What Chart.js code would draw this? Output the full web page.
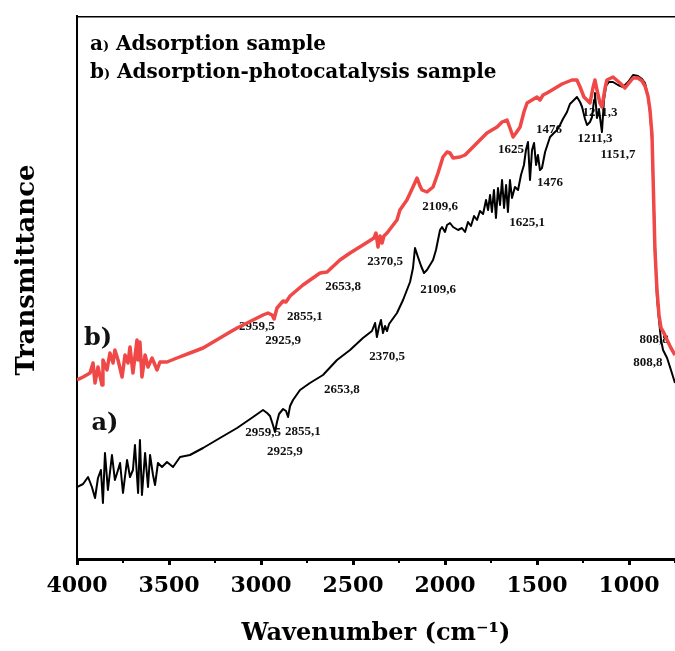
<!DOCTYPE html>
<html>
<head>
<meta charset="utf-8">
<script src="https://cdn.jsdelivr.net/npm/chart.js@4.4.1/dist/chart.umd.min.js"></script>
<style>
  html, body { margin: 0; padding: 0; background: #fff; }
  #wrap { width: 675px; height: 651px; }
</style>
</head>
<body>
<div id="wrap"><canvas id="ftir" width="675" height="651"></canvas></div>
<script>
// wavenumber (cm-1) / transmittance (a.u.)
// a) adsorption sample (black)
const wnA = [4000, 3967, 3940, 3919, 3902, 3886, 3870, 3859, 3848, 3832, 3810, 3794, 3777, 3766, 3750, 3728, 3712, 3696, 3685, 3668,
  3658, 3647, 3630, 3614, 3603, 3587, 3576, 3560, 3538, 3511, 3478, 3440, 3386, 3315, 3223, 3130, 3043, 2989,
  2967, 2951, 2935, 2924, 2913, 2902, 2880, 2864, 2853, 2842, 2826, 2788, 2734, 2663, 2587, 2516, 2446, 2397, 2380, 2370,
  2359, 2348, 2337, 2326, 2315, 2304, 2261, 2228, 2190, 2174, 2163, 2147, 2130, 2114, 2098, 2065, 2049, 2027, 2016, 2000,
  1989, 1973, 1956, 1929, 1908, 1891, 1875, 1859, 1842, 1826, 1810, 1793, 1777, 1766, 1755, 1745, 1734, 1723, 1712, 1701,
  1690, 1679, 1668, 1658, 1647, 1636, 1620, 1603, 1587, 1571, 1560, 1549, 1538, 1527, 1516, 1505, 1495, 1484, 1473, 1456,
  1440, 1429, 1408, 1391, 1375, 1359, 1337, 1321, 1299, 1283, 1266, 1255, 1239, 1228, 1212, 1201, 1190, 1185, 1174, 1163,
  1147, 1136, 1125, 1109, 1087, 1060, 1033, 1005, 978, 951, 929, 913, 897, 886, 875, 859, 848, 837, 826,
  815, 793, 772, 750];
const tA = [7.2, 7.5, 8.2, 7.2, 6.1, 8.1, 8.9, 5.6, 10.6, 6.9, 10.4, 7.9, 8.9, 9.6, 6.6, 9.9, 8.2, 8.9, 11.4, 6.6,
  11.9, 6.4, 10.6, 7.2, 10.4, 8.4, 7.4, 9.6, 9.2, 9.7, 9.2, 10.2, 10.4, 11.1, 12.1, 13.1, 14.2, 14.9,
  14.6, 14.3, 13.4, 12.7, 13.7, 14.5, 15.0, 14.8, 14.2, 15.3, 15.9, 16.9, 17.6, 18.4, 19.9, 20.9, 22.1, 22.8, 23.6, 22.2,
  23.2, 23.9, 22.6, 23.3, 22.8, 23.5, 24.6, 25.9, 27.7, 29.1, 31.1, 30.2, 29.3, 28.6, 28.9, 29.9, 30.9, 32.9, 33.2, 32.7,
  33.4, 33.6, 33.2, 32.9, 33.1, 32.7, 33.7, 33.3, 34.3, 33.9, 34.8, 34.5, 35.9, 34.9, 36.4, 34.7, 36.9, 34.1, 37.1, 35.4,
  37.9, 35.1, 37.4, 34.7, 37.9, 36.1, 37.2, 36.9, 38.4, 39.4, 40.9, 41.7, 37.9, 40.9, 41.6, 39.4, 40.4, 38.9, 39.1, 40.7,
  41.6, 42.2, 42.6, 42.9, 43.4, 44.0, 44.7, 45.5, 45.9, 46.2, 45.7, 45.2, 44.0, 43.4, 43.7, 44.2, 45.9, 46.6, 44.1, 44.9,
  42.7, 45.9, 47.3, 47.7, 47.7, 47.4, 47.2, 47.7, 48.4, 48.3, 48.0, 47.6, 46.3, 44.7, 41.9, 31.5, 26.2, 23.9, 21.9,
  20.9, 20.1, 18.9, 17.6];

// b) adsorption-photocatalysis sample (red)
const wnB = [4000, 3967, 3929, 3913, 3902, 3886, 3864, 3859, 3837, 3821, 3804, 3794, 3777, 3755, 3739, 3723, 3712, 3696, 3674, 3669,
  3658, 3647, 3630, 3614, 3592, 3565, 3549, 3511, 3457, 3386, 3315, 3223, 3168, 3130, 3043, 2989, 2962, 2940, 2929, 2913,
  2880, 2864, 2842, 2772, 2679, 2641, 2571, 2516, 2446, 2386, 2375, 2364, 2353, 2342, 2332, 2315, 2261, 2245, 2207, 2174,
  2152, 2136, 2125, 2098, 2065, 2038, 2011, 1989, 1973, 1956, 1918, 1891, 1864, 1837, 1810, 1772, 1745, 1717, 1690, 1663,
  1647, 1630, 1614, 1592, 1571, 1554, 1527, 1500, 1484, 1467, 1446, 1418, 1391, 1364, 1337, 1310, 1283, 1266, 1245, 1228,
  1212, 1196, 1185, 1174, 1158, 1147, 1130, 1120, 1087, 1049, 1022, 1000, 978, 951, 929, 913, 897, 886, 875,
  859, 848, 837, 826, 810, 793, 772, 750];
const tB = [17.9, 18.2, 18.6, 19.6, 17.6, 19.2, 17.4, 19.9, 18.9, 20.6, 19.6, 20.9, 19.9, 18.2, 20.4, 19.6, 21.2, 18.6, 21.9, 19.9,
  21.7, 18.2, 20.4, 19.2, 20.1, 18.9, 19.7, 19.7, 20.1, 20.6, 21.1, 22.1, 22.7, 23.1, 23.9, 24.4, 24.6, 24.4, 24.0, 25.1,
  25.8, 25.7, 26.3, 27.4, 28.6, 28.7, 29.9, 30.6, 31.4, 32.1, 32.6, 31.2, 32.3, 31.6, 32.3, 32.6, 33.9, 34.9, 35.9, 37.2,
  38.1, 37.3, 36.9, 36.7, 37.2, 38.6, 40.2, 40.7, 40.6, 40.1, 40.2, 40.4, 40.9, 41.4, 41.9, 42.6, 42.9, 43.2, 43.7, 43.9,
  43.1, 42.2, 42.6, 43.2, 44.7, 45.6, 45.9, 46.2, 45.9, 46.4, 46.6, 46.9, 47.2, 47.5, 47.7, 47.9, 47.9, 47.2, 46.2, 45.9,
  45.6, 47.1, 47.9, 46.9, 45.6, 45.2, 47.1, 47.9, 48.2, 47.6, 47.1, 47.6, 48.1, 48.1, 47.8, 47.3, 46.3, 44.9, 42.4,
  30.9, 26.9, 24.4, 23.1, 22.6, 21.9, 21.1, 20.4];

const xTickValues = [1000, 1500, 2000, 2500, 3000, 3500, 4000];
const xMinorTicks = [3750, 3250, 2750, 2250, 1750, 1250, 750];

// peak labels: text, wavenumber, transmittance where the label sits
const peakTextA = ['2959,5', '2855,1', '2925,9', '2653,8', '2370,5', '2109,6', '1625,1', '1476', '1211,3', '1151,7', '808,8'];
const peakXA = [2989, 2772, 2870, 2560, 2315, 2038, 1554, 1429, 1185, 1060, 897];
const peakYA = [12.6, 12.7, 10.7, 16.9, 20.2, 26.9, 33.6, 37.6, 42.0, 40.4, 19.6];
const peakTextB = ['2959,5', '2925,9', '2855,1', '2653,8', '2370,5', '2109,6', '1625', '1476', '1211,3', '808,8'];
const peakXB = [3022, 2880, 2761, 2554, 2326, 2027, 1641, 1435, 1158, 864];
const peakYB = [23.2, 21.8, 24.2, 27.2, 29.7, 35.2, 40.9, 42.9, 44.6, 21.9];

const toPoints = (xs, ys) => xs.map((x, i) => ({ x: x, y: ys[i] }));

const serif = '"DejaVu Serif", serif';

const decorations = {
  id: 'decorations',
  beforeDatasetsDraw(chart) {
    const { ctx, chartArea: a, scales: { x, y } } = chart;
    ctx.save();
    // top frame line
    ctx.strokeStyle = '#000';
    ctx.lineWidth = 1.5;
    ctx.beginPath();
    ctx.moveTo(a.left, a.top + 0.75);
    ctx.lineTo(a.right, a.top + 0.75);
    ctx.stroke();
    // minor ticks
    ctx.lineWidth = 2;
    xMinorTicks.forEach(v => {
      const px = x.getPixelForValue(v);
      ctx.beginPath();
      ctx.moveTo(px, a.bottom);
      ctx.lineTo(px, a.bottom + 4);
      ctx.stroke();
    });
    // peak labels
    ctx.fillStyle = '#111';
    ctx.textAlign = 'center';
    ctx.textBaseline = 'middle';
    ctx.font = 'bold 13px "Liberation Serif", serif';
    peakTextA.forEach((t, i) => ctx.fillText(t, x.getPixelForValue(peakXA[i]), y.getPixelForValue(peakYA[i])));
    peakTextB.forEach((t, i) => ctx.fillText(t, x.getPixelForValue(peakXB[i]), y.getPixelForValue(peakYB[i])));
    // curve tags
    ctx.font = 'bold 24px ' + serif;
    ctx.fillText('b)', x.getPixelForValue(3886), y.getPixelForValue(22.0));
    ctx.fillText('a)', x.getPixelForValue(3848), y.getPixelForValue(13.5));
    ctx.restore();
  },
  afterDraw(chart) {
    const { ctx } = chart;
    ctx.save();
    ctx.fillStyle = '#000';
    ctx.textBaseline = 'alphabetic';
    ctx.textAlign = 'left';
    const line = (tag, text, x0, yb) => {
      let xp = x0;
      ctx.font = 'bold 20px ' + serif;
      ctx.fillText(tag, xp, yb);
      xp += ctx.measureText(tag).width;
      ctx.font = 'bold 13px ' + serif;
      ctx.fillText(')', xp, yb);
      xp += ctx.measureText(')').width;
      ctx.font = 'bold 20px ' + serif;
      ctx.fillText(text, xp, yb);
    };
    line('a', ' Adsorption sample', 90, 50);
    line('b', ' Adsorption-photocatalysis sample', 90, 78);
    // y-axis title
    ctx.translate(27, 270);
    ctx.rotate(-Math.PI / 2);
    ctx.textAlign = 'center';
    ctx.textBaseline = 'middle';
    ctx.font = 'bold 26px ' + serif;
    ctx.fillText('Transmittance', 0, 0);
    ctx.restore();
  }
};

const ctx = document.getElementById('ftir').getContext('2d');
new Chart(ctx, {
  type: 'line',
  data: {
    datasets: [{
      label: 'b) Adsorption-photocatalysis sample',
      data: toPoints(wnB, tB),
      borderColor: '#f04747',
      borderWidth: 3.5,
      borderJoinStyle: 'round',
      pointRadius: 0,
      tension: 0,
      fill: false
    }, {
      label: 'a) Adsorption sample',
      data: toPoints(wnA, tA),
      borderColor: '#000',
      borderWidth: 2,
      borderJoinStyle: 'round',
      pointRadius: 0,
      tension: 0,
      fill: false
    }]
  },
  options: {
    responsive: false,
    animation: false,
    layout: { padding: { top: 16, left: 0, right: 0, bottom: 0 } },
    plugins: { legend: { display: false }, tooltip: { enabled: false } },
    scales: {
      x: {
        type: 'linear',
        reverse: true,
        min: 750,
        max: 4000,
        afterBuildTicks: scale => { scale.ticks = xTickValues.map(v => ({ value: v })); },
        afterFit: scale => { scale.height = 92; },
        ticks: {
          font: { family: serif, size: 22, weight: 'bold' },
          color: '#000',
          padding: 8,
          maxRotation: 0,
          callback: v => String(v)
        },
        grid: { display: true, drawOnChartArea: false, drawTicks: true, tickLength: 6, tickWidth: 3, tickColor: '#000' },
        border: { display: true, color: '#000', width: 3 },
        title: {
          display: true,
          text: 'Wavenumber (cm⁻¹)',
          font: { family: serif, size: 24, weight: 'bold' },
          color: '#000',
          padding: { top: 0, bottom: 3 }
        }
      },
      y: {
        min: 0,
        max: 54.3,
        afterFit: scale => { scale.width = 77; },
        ticks: { display: false },
        grid: { display: false },
        border: { display: true, color: '#000', width: 2 }
      }
    }
  },
  plugins: [decorations]
});
</script>
</body>
</html>
